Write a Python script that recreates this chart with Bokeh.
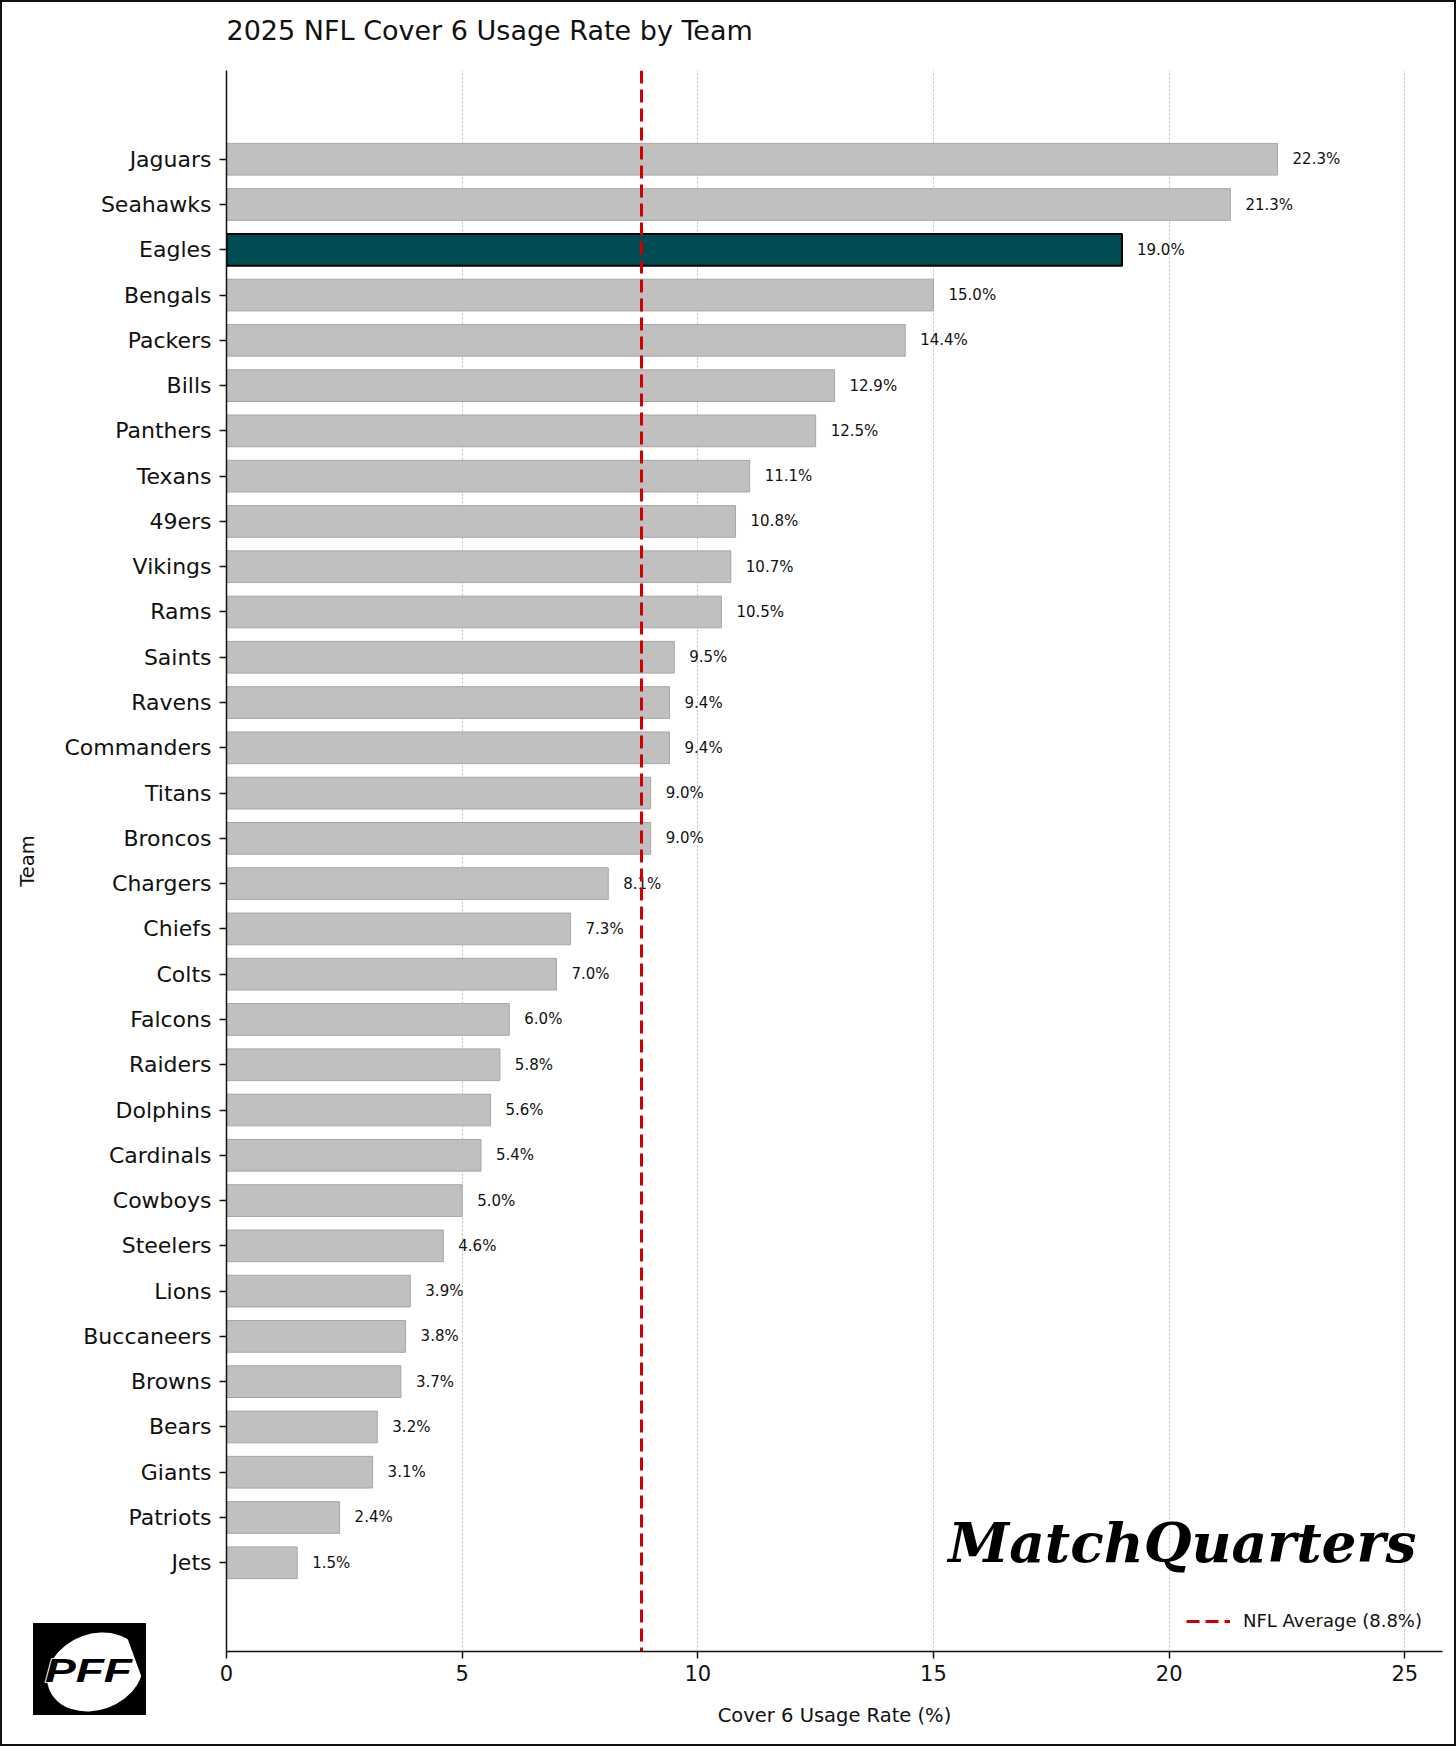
from bokeh.plotting import figure
from bokeh.layouts import column
from bokeh.models import (ColumnDataSource, FactorRange, Range1d, FixedTicker,
                          Label, Legend, LegendItem, Title, Div)
from bokeh.core.properties import value
from bokeh.embed import file_html
from bokeh.resources import INLINE

# ---- data (top to bottom) ----
teams = ["Jaguars", "Seahawks", "Eagles", "Bengals", "Packers", "Bills", "Panthers",
         "Texans", "49ers", "Vikings", "Rams", "Saints", "Ravens", "Commanders",
         "Titans", "Broncos", "Chargers", "Chiefs", "Colts", "Falcons", "Raiders",
         "Dolphins", "Cardinals", "Cowboys", "Steelers", "Lions", "Buccaneers",
         "Browns", "Bears", "Giants", "Patriots", "Jets"]
rates = [22.3, 21.3, 19.0, 15.0, 14.4, 12.9, 12.5, 11.1, 10.8, 10.7, 10.5, 9.5, 9.4,
         9.4, 9.0, 9.0, 8.1, 7.3, 7.0, 6.0, 5.8, 5.6, 5.4, 5.0, 4.6, 3.9, 3.8, 3.7,
         3.2, 3.1, 2.4, 1.5]
highlight_team = "Eagles"
nfl_average = 8.8
x_ticks = [0, 5, 10, 15, 20, 25]

FONT = "DejaVu Sans"
INK = "#111111"
RED = "#d00000"

colors = ["#004C54" if t == highlight_team else "#c0c0c0" for t in teams]
edges = ["#000000" if t == highlight_team else "#a6a6a6" for t in teams]
widths = [2.0 if t == highlight_team else 1.0 for t in teams]
labels = [f"{r:.1f}%" for r in rates]

source = ColumnDataSource(dict(team=teams, rate=rates, color=colors, edge=edges,
                               lw=widths, label=labels))

p = figure(width=1456, height=1746,
           y_range=FactorRange(factors=teams[::-1], range_padding=1.46,
                               range_padding_units="absolute"),
           x_range=Range1d(0, 25.8),
           output_backend="svg", toolbar_location=None,
           title="2025 NFL Cover 6 Usage Rate by Team")
p.min_border_left = 224
p.min_border_right = 16
p.min_border_top = 68
p.min_border_bottom = 97
p.outline_line_color = None
p.background_fill_color = "white"
p.border_fill_color = "white"
p.styles = {"border": "2px solid #111111"}

p.title.text_font = FONT
p.title.text_font_size = "27px"
p.title.text_font_style = "normal"
p.title.text_color = INK
p.title.align = "left"
p.title.standoff = 0
# blank spacer between the title and the plot area
p.add_layout(Title(text=" ", text_font_size="10px", standoff=12), "above")

p.hbar(y="team", right="rate", left=0, height=0.7, source=source,
       fill_color="color", line_color="edge", line_width="lw")

p.text(x="rate", y="team", text="label", source=source, x_offset=15,
       text_align="left", text_baseline="middle", text_font_size="15px",
       text_font=value(FONT), text_color=INK)

avg_r = p.vspan(x=[nfl_average], line_color=RED, line_width=3, line_dash="13 6")

legend = Legend(items=[LegendItem(label=f"NFL Average ({nfl_average}%)", renderers=[avg_r])],
                location="bottom_right", border_line_color=None,
                background_fill_alpha=0.0, label_text_font=FONT,
                label_text_font_size="18px", label_text_color=INK,
                glyph_width=44, label_standoff=13, margin=20, padding=0)
p.add_layout(legend)

# axes
p.xaxis.ticker = FixedTicker(ticks=x_ticks)
p.xaxis.axis_label = "Cover 6 Usage Rate (%)"
p.yaxis.axis_label = "Team"
for ax in (p.xaxis, p.yaxis):
    ax.axis_line_color = INK
    ax.axis_line_width = 1.5
    ax.major_tick_line_color = INK
    ax.major_tick_line_width = 1.5
    ax.major_tick_out = 7
    ax.major_tick_in = 0
    ax.minor_tick_out = 0
    ax.minor_tick_in = 0
    ax.major_label_text_font = FONT
    ax.major_label_text_color = INK
    ax.axis_label_text_font = FONT
    ax.axis_label_text_font_style = "normal"
    ax.axis_label_text_font_size = "19.5px"
    ax.axis_label_text_color = INK
p.yaxis.major_label_text_font_size = "22px"
p.xaxis.major_label_text_font_size = "21px"
p.yaxis.major_label_standoff = 8
p.xaxis.major_label_standoff = 6
p.xaxis.axis_label_standoff = 20
p.yaxis.axis_label_standoff = 22

p.ygrid.grid_line_color = None
p.xgrid.grid_line_color = "#bdbdbd"
p.xgrid.grid_line_dash = "2 2"
p.xgrid.grid_line_width = 1

# watermark
p.add_layout(Label(x=1190, y=109, x_units="screen", y_units="screen",
                   text="MatchQuarters", text_align="right", text_baseline="alphabetic",
                   text_font="DejaVu Serif", text_font_style="bold italic",
                   text_font_size="55px", text_color="black"))

# PFF logo badge, pulled up over the lower-left corner of the chart
logo_svg = (
    '<svg xmlns="http://www.w3.org/2000/svg" width="113" height="92" viewBox="0 0 113 92" '
    'style="display:block">'
    '<defs><clipPath id="pffclip"><rect x="0" y="0" width="104" height="92"/></clipPath></defs>'
    '<rect x="0" y="0" width="113" height="92" fill="black"/>'
    '<ellipse cx="62" cy="49" rx="49" ry="38" transform="rotate(-20 62 49)" fill="white" '
    'clip-path="url(#pffclip)"/>'
    '<text x="12" y="59" textLength="87" lengthAdjust="spacingAndGlyphs" '
    'font-family="DejaVu Sans" font-weight="bold" font-style="italic" font-size="34" '
    'fill="black" stroke="white" stroke-width="1.5" paint-order="stroke">PFF</text>'
    '</svg>'
)
logo = Div(text=logo_svg, width=113, height=92, margin=(-123, 0, 0, 33),
           styles={"overflow": "hidden"})

layout = column(p, logo, spacing=0)
open("out.html", "w").write(file_html(layout, INLINE))
